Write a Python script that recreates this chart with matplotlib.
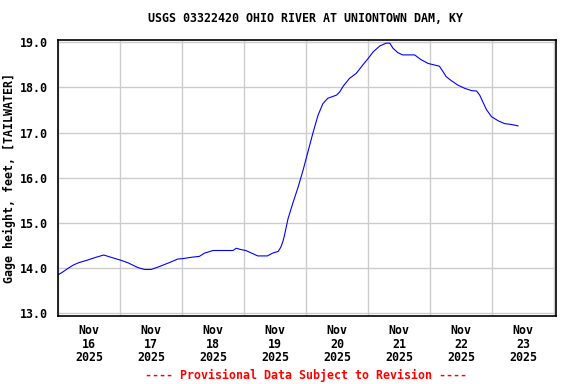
from matplotlib import pyplot as plot
import pandas as pd

# Gage height readings, hours after 2025-11-16 00:00
hoursList = [0, 2, 4, 6, 8, 11.5, 14.7, 17.7, 20.5, 24,
             27, 31, 33.5, 36, 39, 43, 46.3, 48.2, 51.6, 54.7,
             56.6, 60, 64, 67.7, 69, 70.8, 72.7, 75, 77.3, 81,
             83, 85.2, 86.2, 87.1, 87.7, 89, 91, 92.9, 94.8, 96.7,
             98.6, 100.6, 102.5, 104.4, 107.8, 109, 110.4, 112.8, 115.4, 118,
             120, 122, 124.6, 127, 128.4, 129.6, 131.5, 133.4, 138, 140.6,
             143.3, 147.6, 149, 150.2, 152.2, 154.8, 157.4, 160, 162, 163.2,
             164.4, 165.8, 167.8, 170.4, 172.8, 175.4, 178]
gageHeight = [13.85, 13.92, 14.00, 14.07, 14.12, 14.18, 14.24, 14.29, 14.24, 14.18,
              14.12, 14.01, 13.97, 13.97, 14.03, 14.12, 14.20, 14.21, 14.24, 14.26,
              14.33, 14.39, 14.39, 14.39, 14.44, 14.41, 14.39, 14.33, 14.27, 14.27,
              14.33, 14.37, 14.46, 14.60, 14.74, 15.09, 15.46, 15.79, 16.16, 16.57,
              16.98, 17.38, 17.64, 17.76, 17.83, 17.90, 18.03, 18.20, 18.31, 18.50,
              18.64, 18.79, 18.92, 18.98, 18.98, 18.87, 18.77, 18.72, 18.72, 18.61,
              18.53, 18.47, 18.35, 18.24, 18.15, 18.05, 17.98, 17.93, 17.92, 17.83,
              17.68, 17.51, 17.35, 17.26, 17.20, 17.18, 17.15]

dayLabels = ['16', '17', '18', '19', '20', '21', '22', '23']
yTicks = [13.0, 14.0, 15.0, 16.0, 17.0, 18.0, 19.0]

titleText = 'USGS 03322420 OHIO RIVER AT UNIONTOWN DAM, KY'
yLabelText = 'Gage height, feet, [TAILWATER]'
footerText = '---- Provisional Data Subject to Revision ----'

fontName = 'DejaVu Sans Mono'
fontSize = 8.35

startTime = pd.Timestamp('2025-11-16 00:00')
timeList = startTime + pd.to_timedelta(hoursList, unit='h')

fig = plot.figure(figsize=(5.76, 3.84), dpi=100)
ax = fig.add_axes([58/576, 1-316/384, 498/576, 276/384])

# Data line
ax.plot(timeList, gageHeight, color='#0000ff', linewidth=0.8)

# Axis limits
ax.set_xlim(startTime, startTime + pd.Timedelta(hours=8.03*24))
ax.set_ylim(12.94, 19.05)

# Day labels at noon, grid at midnight
noonTicks = [startTime + pd.Timedelta(hours=12 + 24*i) for i in range(len(dayLabels))]
midnightTicks = [startTime + pd.Timedelta(days=i) for i in range(len(dayLabels) + 1)]
ax.set_xticks(noonTicks)
ax.set_xticklabels([f'Nov\n{d}\n2025' for d in dayLabels], fontname=fontName,
                   fontsize=fontSize, fontweight='bold', linespacing=1.05)
ax.set_xticks(midnightTicks, minor=True)
ax.set_yticks(yTicks)
ax.set_yticklabels([f'{v:.1f}' for v in yTicks], fontname=fontName,
                   fontsize=fontSize, fontweight='bold')

ax.tick_params(axis='both', which='both', length=0)
ax.tick_params(axis='x', pad=6)
ax.tick_params(axis='y', pad=7)

ax.grid(axis='x', which='minor', color='#cccccc', linewidth=1)
ax.grid(axis='y', which='major', color='#cccccc', linewidth=1)
ax.grid(axis='x', which='major', visible=False)
ax.set_axisbelow(True)

for spine in ax.spines.values():
    spine.set_linewidth(1.2)
    spine.set_color('black')

# Texts
ax.set_ylabel(yLabelText, fontname=fontName, fontsize=fontSize, fontweight='bold', labelpad=3)
fig.text(306/576, 1-19/384, titleText, ha='center', va='center', fontname=fontName,
         fontsize=fontSize, fontweight='bold')
fig.text(306/576, 1-375/384, footerText, ha='center', va='center', fontname=fontName,
         fontsize=fontSize, fontweight='bold', color='#ff0000')

fig.savefig('out.png', dpi=100)
